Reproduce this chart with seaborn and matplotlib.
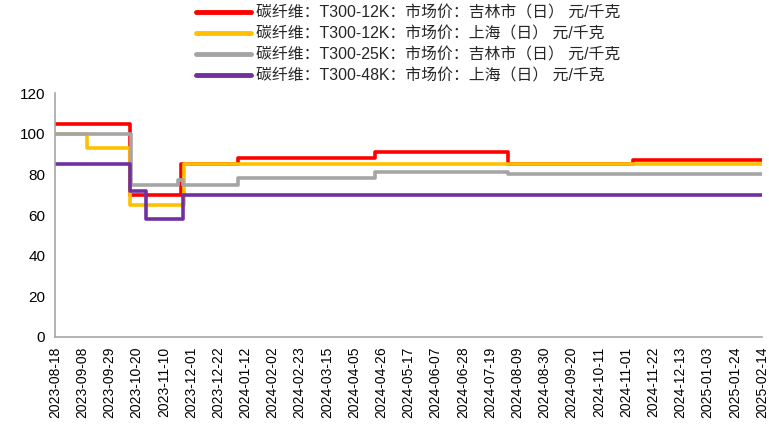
import matplotlib
matplotlib.use("Agg")
import matplotlib.pyplot as plt
import matplotlib.dates as mdates
from matplotlib.lines import Line2D
import pandas as pd
import seaborn as sns

# ---- data ----
series_names = [
    "碳纤维：T300-12K：市场价：吉林市（日） 元/千克",
    "碳纤维：T300-12K：市场价：上海（日） 元/千克",
    "碳纤维：T300-25K：市场价：吉林市（日） 元/千克",
    "碳纤维：T300-48K：市场价：上海（日） 元/千克",
]
red_dates = ["2023-08-18", "2023-10-15", "2023-11-23", "2024-01-06", "2024-04-21", "2024-08-02", "2024-11-06", "2025-02-14"]
red_vals = [105, 70, 85, 88, 91, 85, 87, 87]
yellow_dates = ["2023-08-18", "2023-09-12", "2023-10-15", "2023-11-26", "2025-02-14"]
yellow_vals = [100, 93, 65, 85, 85]
gray_dates = ["2023-08-18", "2023-10-16", "2023-11-21", "2023-11-25", "2024-01-06", "2024-04-21", "2024-08-02", "2025-02-14"]
gray_vals = [100, 75, 77, 75, 78, 81, 80, 80]
purple_dates = ["2023-08-18", "2023-10-15", "2023-10-27", "2023-11-25", "2025-02-14"]
purple_vals = [85, 72, 58, 70, 70]
colors = ["#FF0000", "#FFC000", "#A5A5A5", "#7030A0"]
y_ticks = [0, 20, 40, 60, 80, 100, 120]
x_start, x_end = "2023-08-18", "2025-02-14"

frames = []
for name, d, v in zip(series_names,
                      [red_dates, yellow_dates, gray_dates, purple_dates],
                      [red_vals, yellow_vals, gray_vals, purple_vals]):
    frames.append(pd.DataFrame({"date": pd.to_datetime(d), "value": v, "series": name}))
df = pd.concat(frames, ignore_index=True)

sns.set_theme(style="white")
plt.rcParams["font.family"] = ["Liberation Sans", "Noto Sans CJK SC", "DejaVu Sans"]

fig = plt.figure(figsize=(7.69, 4.29), dpi=100)
ax = fig.add_axes([55 / 769, 1 - 337 / 429, (762 - 55) / 769, (337 - 93) / 429])

sns.lineplot(data=df, x="date", y="value", hue="series", hue_order=series_names,
             palette=colors, drawstyle="steps-post", linewidth=2.6, legend=False,
             estimator=None, ax=ax)

ax.set_xlim(pd.Timestamp(x_start), pd.Timestamp(x_end))
ax.set_ylim(0, 120)
ax.set_yticks(y_ticks)
xt = pd.date_range(x_start, x_end, freq="21D")
ax.set_xticks(xt)
ax.set_xticklabels([d.strftime("%Y-%m-%d") for d in xt], rotation=90)
ax.set_xlabel("")
ax.set_ylabel("")
ax.margins(x=0)

for s in ["top", "right"]:
    ax.spines[s].set_visible(False)
for s in ["left", "bottom"]:
    ax.spines[s].set_color("#A6A6A6")
    ax.spines[s].set_linewidth(1.2)
ax.tick_params(axis="both", which="major", direction="out", length=4, width=1.2,
               color="#A6A6A6", labelsize=10, labelcolor="black", pad=3)
ax.tick_params(axis="y", labelsize=11)
ax.grid(False)

handles = [Line2D([0], [0], color=c, linewidth=3.5) for c in colors]
fig.legend(handles, series_names, loc="upper left", bbox_to_anchor=(194 / 769, 1 - 4 / 429),
           frameon=False, fontsize=11.4, handlelength=3.5, handletextpad=0.3,
           labelspacing=0.38, borderaxespad=0.0, borderpad=0.1)

fig.savefig("out.png", dpi=100)
